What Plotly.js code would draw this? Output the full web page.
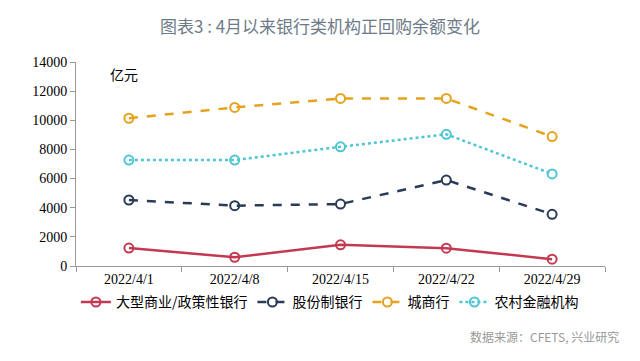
<!DOCTYPE html>
<html><head><meta charset="utf-8">
<script src="https://cdn.plot.ly/plotly-3.0.1.min.js"></script>
<style>body{margin:0;background:#fff}#chart{width:640px;height:361px}</style>
</head><body><div id="chart"></div>
<script>
const dates = ["2022/4/1","2022/4/8","2022/4/15","2022/4/22","2022/4/29"];
const bigBanks = [1230, 600, 1450, 1220, 470];
const jointStock = [4530, 4140, 4250, 5900, 3550];
const cityBanks = [10140, 10880, 11500, 11500, 8880];
const ruralInst = [7270, 7270, 8180, 9040, 6320];
const names = ["大型商业/政策性银行","股份制银行","城商行","农村金融机构"];
const colors = ["#c23a52","#2a3b57","#e5a21e","#4ec6d2"];
const dashes = ["solid","dash","dash","dot"];
const series = [bigBanks, jointStock, cityBanks, ruralInst];
const idx = dates.map((d,i)=>i);

const traces = series.map((s,i)=>({
  x: idx, y: s, name: names[i], type:"scatter", mode:"lines+markers",
  line:{color:colors[i], width:2.5, dash:dashes[i]},
  marker:{symbol:"circle-open", size:9, color:colors[i], line:{width:2, color:colors[i]}}
}));

const serif = "Liberation Serif, Times New Roman, serif";
const layout = {
  width:640, height:361,
  margin:{l:76, r:35, t:62, b:95},
  paper_bgcolor:"#fff", plot_bgcolor:"#fff",
  title:{text:"图表3 : 4月以来银行类机构正回购余额变化", x:0.5, xanchor:"center", y:0.925, yanchor:"middle",
    font:{family:"Noto Sans CJK SC", size:17, color:"#6d7a88"}},
  xaxis:{range:[-0.5, dates.length-0.5], tickmode:"array", tickvals:idx, ticktext:dates,
    ticks:"", showline:true, linecolor:"#999", linewidth:1, showgrid:false, zeroline:false, tickangle:0,
    minor:{ticks:"outside", ticklen:5, tickcolor:"#999", tick0:-0.5, dtick:1, showgrid:false},
    tickfont:{family:serif, size:14, color:"#000"}},
  yaxis:{range:[0,14000], dtick:2000, tickformat:"d", ticks:"outside", ticklen:5, tickcolor:"#999",
    showline:true, linecolor:"#999", linewidth:1, showgrid:false, zeroline:false,
    tickfont:{family:serif, size:14, color:"#000"}},
  showlegend:true,
  legend:{orientation:"h", x:0.48, xanchor:"center", y:-0.10, yanchor:"top",
    bgcolor:"rgba(0,0,0,0)",
    font:{family:"Noto Sans CJK SC", size:14, color:"#000"}, itemwidth:30, tracegroupgap:0},
  annotations:[
    {text:"亿元", xref:"paper", yref:"paper", x:0.09, y:0.94, xanchor:"center", yanchor:"middle",
     showarrow:false, font:{family:"Noto Sans CJK SC", size:14, color:"#000"}},
    {text:"数据来源：CFETS, 兴业研究", xref:"paper", yref:"paper", x:1.03, y:-0.345, xanchor:"right", yanchor:"middle",
     showarrow:false, font:{family:"Noto Sans CJK SC", size:12, color:"#999"}}
  ]
};
Plotly.newPlot("chart", traces, layout, {displayModeBar:false, staticPlot:true});
</script></body></html>
